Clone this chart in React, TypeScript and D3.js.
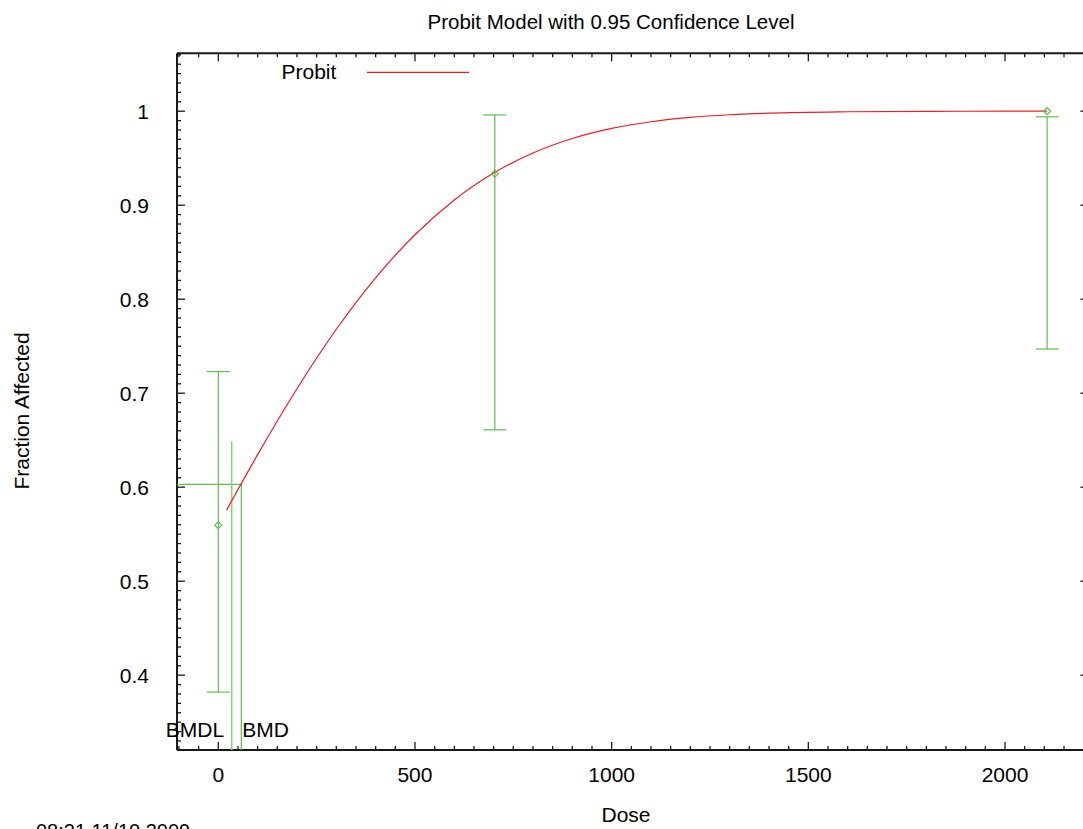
import React from "react";
import * as d3 from "d3";

// ---- data ----
const doses = [0, 703, 2107];
const meanFraction = [0.5596, 0.9335, 1.0];
const ciLower = [0.382, 0.661, 0.747];
const ciUpper = [0.723, 0.996, 0.994];

const curveDose = [21, 100, 200, 300, 400, 500, 600, 700, 800, 900, 1000, 1100, 1200, 1300, 1400, 1600, 1800, 2000, 2107];
const curveFraction = [0.5756, 0.6346, 0.7047, 0.768, 0.8228, 0.8686, 0.9056, 0.9342, 0.9556, 0.971, 0.9817, 0.9888, 0.9934, 0.9962, 0.9979, 0.9994, 0.9999, 1.0, 1.0];

const bmd = 58.5;
const bmdl = 34;
const bmrLevel = 0.603;
const bmdlTop = 0.649;

const xTickLabels = [0, 500, 1000, 1500, 2000];
const yTickLabels = [0.4, 0.5, 0.6, 0.7, 0.8, 0.9, 1];

const title = "Probit Model with 0.95 Confidence Level";
const xTitle = "Dose";
const yTitle = "Fraction Affected";
const legendLabel = "Probit";
const timestamp = "08:21 11/10 2009";

const W = 1083;
const H = 829;
const FONT = "'Liberation Sans', Arial, Helvetica, sans-serif";
const GREEN = "#62bd4e";
const RED = "#ee1c24";
const AXIS = "#1a1a1a";

export default function App() {
  const left = 177, top = 53.3, bottom = 750;
  const x0 = 218.3, pxPerUnit = 0.39335;
  const xDomain: [number, number] = [-105, 2212];
  const x = d3.scaleLinear().domain(xDomain).range([x0 + xDomain[0] * pxPerUnit, x0 + xDomain[1] * pxPerUnit]);
  const right = x(xDomain[1]);
  const y = d3.scaleLinear().domain([0.3204, 1.0616]).range([bottom, top]);

  const xMinor = d3.range(-100, 2201, 50).filter((v) => v % 500 !== 0);
  const xMajor = d3.range(0, 2201, 500);
  const yMinor = d3.range(33, 107, 1).map((v) => v / 100).filter((v) => Math.round(v * 100) % 10 !== 0);
  const yMajor = d3.range(4, 11, 1).map((v) => v / 10);

  const line = d3
    .line<number>()
    .x((_, i) => x(curveDose[i]))
    .y((d) => y(d))
    .curve(d3.curveMonotoneX);

  const cap = 11.5;

  return (
    <svg width={W} height={H} style={{ position: "absolute", left: 0, top: 0, display: "block", background: "#fff" }} fontFamily={FONT}>
      <rect width={W} height={H} fill="#fff" />
      {/* title */}
      <text x={611} y={29} textAnchor="middle" fontSize={20.5} fill="#000">{title}</text>

      {/* axis frame */}
      <g stroke={AXIS} strokeWidth={2} fill="none">
        <line x1={left} y1={top} x2={right} y2={top} />
        <line x1={left} y1={bottom} x2={right} y2={bottom} />
        <line x1={left} y1={top} x2={left} y2={bottom} />
        <line x1={right} y1={top} x2={right} y2={bottom} />
      </g>

      {/* x ticks */}
      <g stroke={AXIS} strokeWidth={1.3}>
        {xMinor.map((v) => (
          <g key={"xm" + v}>
            <line x1={x(v)} x2={x(v)} y1={bottom} y2={bottom - 4} />
            <line x1={x(v)} x2={x(v)} y1={top} y2={top + 4} />
          </g>
        ))}
        {xMajor.map((v) => (
          <g key={"xM" + v}>
            <line x1={x(v)} x2={x(v)} y1={bottom} y2={bottom - 8} />
            <line x1={x(v)} x2={x(v)} y1={top} y2={top + 8} />
          </g>
        ))}
        {yMinor.map((v) => (
          <g key={"ym" + v}>
            <line x1={left} x2={left + 4} y1={y(v)} y2={y(v)} />
            <line x1={right} x2={right - 4} y1={y(v)} y2={y(v)} />
          </g>
        ))}
        {yMajor.map((v) => (
          <g key={"yM" + v}>
            <line x1={left} x2={left + 8} y1={y(v)} y2={y(v)} />
            <line x1={right} x2={right - 8} y1={y(v)} y2={y(v)} />
          </g>
        ))}
      </g>

      {/* tick labels */}
      <g fontSize={21} fill="#000">
        {xTickLabels.map((v) => (
          <text key={"xl" + v} x={x(v)} y={782} textAnchor="middle">{String(v)}</text>
        ))}
        {yTickLabels.map((v) => (
          <text key={"yl" + v} x={149} y={y(v)} dy="0.36em" textAnchor="end">{String(v)}</text>
        ))}
      </g>

      {/* axis titles */}
      <text x={626} y={822} textAnchor="middle" fontSize={21} fill="#000">{xTitle}</text>
      <text transform={`translate(29,411) rotate(-90)`} textAnchor="middle" fontSize={21} fill="#000">{yTitle}</text>
      <text x={36} y={838} fontSize={20} fill="#000">{timestamp}</text>

      {/* legend */}
      <text x={281.5} y={79} fontSize={21} fill="#000">{legendLabel}</text>
      <line x1={367} x2={469} y1={72.3} y2={72.3} stroke={RED} strokeWidth={1.2} />

      {/* BMD / BMDL markers */}
      <g stroke={GREEN} strokeWidth={1.2} fill="none">
        <line x1={left} x2={x(bmd)} y1={y(bmrLevel)} y2={y(bmrLevel)} />
        <line x1={x(bmd)} x2={x(bmd)} y1={y(bmrLevel)} y2={bottom} />
        <line x1={x(bmdl)} x2={x(bmdl)} y1={y(bmdlTop)} y2={bottom} stroke="#8fd07f" strokeWidth={1.6} />
      </g>
      <text x={x(bmdl) - 7.5} y={737} textAnchor="end" fontSize={21} fill="#000">BMDL</text>
      <text x={x(bmd) + 1} y={737} textAnchor="start" fontSize={21} fill="#000">BMD</text>

      {/* error bars */}
      <g stroke={GREEN} strokeWidth={1.2} fill="none">
        {doses.map((d, i) => (
          <g key={"eb" + i}>
            <line x1={x(d)} x2={x(d)} y1={y(ciLower[i])} y2={y(ciUpper[i])} />
            <line x1={x(d) - cap} x2={x(d) + cap} y1={y(ciLower[i])} y2={y(ciLower[i])} />
            <line x1={x(d) - cap} x2={x(d) + cap} y1={y(ciUpper[i])} y2={y(ciUpper[i])} />
          </g>
        ))}
      </g>

      {/* model curve */}
      <path d={line(curveFraction) || ""} fill="none" stroke={RED} strokeWidth={1.2} />

      {/* data points */}
      <g stroke={GREEN} strokeWidth={1.2} fill="none">
        {doses.map((d, i) => {
          const cx = x(d), cy = y(meanFraction[i]), r = 3.5;
          return <path key={"pt" + i} d={`M${cx},${cy - r}L${cx + r},${cy}L${cx},${cy + r}L${cx - r},${cy}Z`} />;
        })}
      </g>
    </svg>
  );
}
